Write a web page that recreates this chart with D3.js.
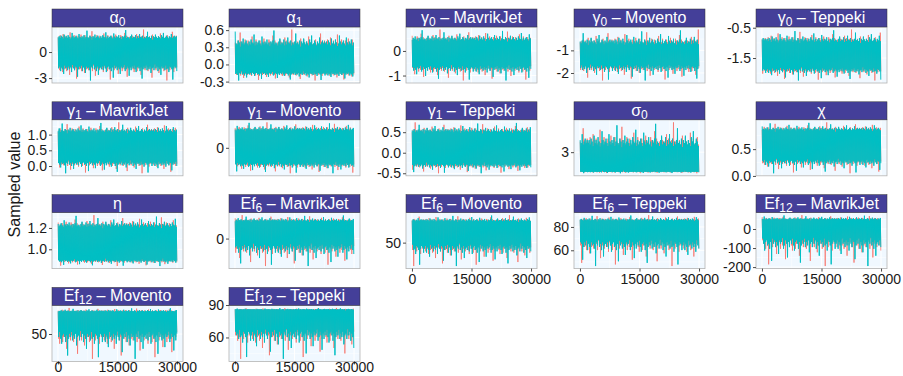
<!DOCTYPE html>
<html>
<head>
<meta charset="utf-8">
<script src="https://cdn.jsdelivr.net/npm/d3@7"></script>
<style>
body { margin: 0; background: #fff; }
svg text { font-family: "Liberation Sans", Arial, Helvetica, sans-serif; }
</style>
</head>
<body>
<div id="chart"></div>
<script>
'use strict';

// facet titles: symbol, subscript, suffix
const panelNames = [
    ["α", "0", ""], ["α", "1", ""], ["γ", "0", " – MavrikJet"], ["γ", "0", " – Movento"], ["γ", "0", " – Teppeki"],
    ["γ", "1", " – MavrikJet"], ["γ", "1", " – Movento"], ["γ", "1", " – Teppeki"], ["σ", "0", ""], ["χ", "", ""],
    ["η", "", ""], ["Ef", "6", " – MavrikJet"], ["Ef", "6", " – Movento"], ["Ef", "6", " – Teppeki"], ["Ef", "12", " – MavrikJet"],
    ["Ef", "12", " – Movento"], ["Ef", "12", " – Teppeki"]
];

// y tick labels per facet
const yTickLabels = [
    ["0", "-3"], ["0.6", "0.3", "0.0", "-0.3"], ["0", "-1"], ["-1", "-2"], ["-0.5", "-1.5"],
    ["1.0", "0.5", "0.0"], ["0"], ["0.5", "0.0", "-0.5"], ["3"], ["0.5", "0.0"],
    ["1.2", "1.0"], ["0"], ["50"], ["80", "60"], ["0", "-100", "-200"],
    ["50"], ["90", "60"]
];

const xTickLabels = ["0", "15000", "30000"];

// chain centre, edges of the dense band, extreme draws
const centers = [0, 0.1, -0.1, -1.2, -1.4, 0.6, 0, 0.12, 2.55, 0.55, 1.06, 15, 62, 77, 0, 63, 76];
const bandHi = [1.55, 0.33, 0.42, -0.73, -0.97, 1.08, 0.85, 0.5, 3.4, 0.85, 1.21, 34, 71, 85.4, 49, 72, 85.7];
const bandLo = [-1.55, -0.14, -0.62, -1.66, -1.84, 0.14, -0.75, -0.27, 1.73, 0.3, 0.9, -12, 48, 68.3, -50, 52, 67];
const maxVals = [2.59, 0.61, 0.87, -0.08, -0.56, 1.39, 1.25, 0.74, 4.95, 1.0, 1.32, 46, 77, 90.1, 72.7, 75.6, 87.3];
const minVals = [-3.27, -0.28, -1.2, -2.33, -2.24, -0.23, -1.25, -0.5, 1.62, 0.05, 0.843, -54, 27, 46.5, -194.6, 25.6, 40.2];

// standardised per-bin highs and lows of the two chains (250 iterations per bin)
const chain1Hi = [
    2.6, 2.3, 2.9, 2.5, 2.1, 3.1, 2.7, 2.4, 2.8, 2.5, 2.3, 2.6, 3.4, 2.4, 2.7, 2.2, 2.9, 2.5, 2.6, 2.3,
    2.8, 2.4, 2.6, 3.0, 2.5, 2.3, 2.7, 2.9, 2.4, 2.6, 2.2, 2.5, 2.8, 2.6, 3.6, 2.4, 2.7, 2.3, 2.5, 2.9,
    2.6, 2.4, 2.8, 2.5, 2.3, 2.7, 3.2, 2.4, 2.6, 2.5, 2.9, 2.3, 2.6, 2.4, 2.8, 2.5, 2.1, 2.7, 3.0, 2.4,
    2.6, 2.5, 2.3, 2.9, 2.7, 2.4, 2.6, 3.3, 2.5, 2.8, 2.4, 2.2, 2.6, 2.5, 2.9, 2.7, 2.3, 2.6, 2.4, 3.1,
    2.5, 2.8, 2.6, 2.3, 2.7, 2.4, 3.9, 2.5, 2.6, 2.2, 2.8, 2.5, 2.7, 2.4, 2.6, 3.0, 2.3, 2.5, 2.9, 2.6,
    2.4, 2.7, 2.5, 3.2, 2.3, 2.6, 2.8, 2.4, 2.5, 2.7, 2.9, 2.4, 2.6, 2.3, 2.5, 3.5, 2.7, 2.4, 2.6, 2.8
];
const chain1Lo = [
    -2.5, -2.8, -2.3, -2.6, -3.0, -2.4, -2.7, -2.2, -2.9, -2.5, -2.6, -3.3, -2.4, -2.7, -2.5, -2.3, -2.8, -2.6, -3.7, -2.4,
    -2.5, -2.7, -2.3, -2.9, -2.6, -2.4, -3.1, -2.5, -2.7, -2.1, -2.8, -2.6, -2.4, -2.5, -2.9, -2.3, -2.7, -3.4, -2.5, -2.6,
    -2.4, -2.8, -2.5, -2.2, -2.7, -3.0, -2.4, -2.6, -2.5, -2.9, -2.3, -2.7, -3.8, -2.5, -2.4, -2.6, -2.8, -2.3, -2.5, -2.7,
    -3.2, -2.4, -2.6, -2.5, -2.9, -2.3, -2.7, -2.4, -2.6, -3.5, -2.5, -2.8, -2.4, -2.6, -2.3, -2.7, -3.0, -2.5, -2.4, -2.9,
    -2.6, -2.3, -2.5, -3.3, -2.7, -2.4, -2.6, -2.8, -2.5, -2.1, -2.9, -2.6, -2.4, -2.7, -3.6, -2.5, -2.3, -2.6, -2.8, -2.4,
    -2.5, -3.1, -2.7, -2.4, -2.6, -2.3, -2.9, -2.5, -2.7, -3.9, -2.4, -2.6, -2.8, -2.5, -2.3, -2.7, -3.0, -2.4, -2.6, -2.5
];
const chain2Hi = [
    2.5, 2.7, 2.4, 2.8, 2.6, 2.3, 3.0, 2.5, 2.7, 2.4, 2.9, 2.6, 2.2, 2.5, 3.3, 2.7, 2.4, 2.6, 2.8, 2.5,
    2.3, 3.1, 2.6, 2.4, 2.7, 2.5, 2.9, 2.3, 2.6, 3.7, 2.5, 2.4, 2.8, 2.6, 2.1, 2.7, 2.5, 3.0, 2.4, 2.6,
    2.8, 2.5, 2.3, 2.7, 2.4, 2.9, 2.6, 2.5, 3.4, 2.3, 2.7, 2.4, 2.6, 2.8, 2.5, 2.3, 3.2, 2.6, 2.4, 2.7,
    2.5, 2.9, 2.4, 2.6, 2.2, 2.7, 2.5, 2.8, 3.8, 2.4, 2.6, 2.5, 2.3, 2.7, 3.0, 2.4, 2.6, 2.5, 2.9, 2.3,
    2.7, 2.4, 3.1, 2.6, 2.5, 2.8, 2.3, 2.6, 2.4, 2.7, 3.5, 2.5, 2.6, 2.4, 2.8, 2.1, 2.7, 2.5, 3.0, 2.6,
    2.4, 2.7, 2.5, 2.3, 2.9, 2.6, 3.3, 2.4, 2.5, 2.8, 2.6, 2.3, 2.7, 2.5, 3.1, 2.4, 2.6, 2.8, 2.5, 2.7
];
const chain2Lo = [
    -2.6, -2.4, -2.9, -2.5, -2.7, -3.2, -2.3, -2.6, -2.5, -2.8, -2.4, -2.7, -2.5, -3.0, -2.2, -2.6, -2.8, -2.4, -2.5, -3.5,
    -2.7, -2.4, -2.6, -2.3, -2.9, -2.5, -2.7, -3.1, -2.4, -2.6, -2.5, -2.8, -3.9, -2.4, -2.6, -2.1, -2.7, -2.5, -2.9, -2.4,
    -3.3, -2.6, -2.5, -2.7, -2.4, -2.8, -2.3, -2.6, -3.0, -2.5, -2.4, -2.7, -2.6, -2.9, -2.5, -3.6, -2.3, -2.6, -2.4, -2.8,
    -2.5, -2.7, -3.2, -2.4, -2.6, -2.5, -2.2, -2.9, -2.7, -2.4, -2.6, -3.4, -2.5, -2.8, -2.4, -2.6, -2.3, -2.7, -3.0, -2.5,
    -2.4, -2.6, -2.9, -2.5, -3.7, -2.7, -2.4, -2.6, -2.3, -2.8, -2.5, -2.7, -2.4, -3.1, -2.6, -2.5, -2.8, -2.1, -2.6, -2.4,
    -2.9, -2.5, -2.7, -3.3, -2.4, -2.6, -2.5, -2.8, -2.3, -2.7, -2.6, -3.0, -2.4, -2.5, -2.7, -3.8, -2.6, -2.4, -2.5, -2.9
];

const chainColors = ["#F8766D", "#00BFC4"];
const chainWidths = [0.8, 1.0];

// layout (pixels)
const colLefts = [52, 229, 406, 574, 756];
const panelW = 131, stripH = 18, panelH = 56, rowTop0 = 9, rowPitch = 92.8;
const nIter = 30000, binSize = 250, zEdge = 2.3;

const zTop = d3.max(chain1Hi.concat(chain2Hi));
const zBot = d3.min(chain1Lo.concat(chain2Lo));

// map a standardised draw to the facet's scale
const toValue = (z, p) => {
    const c = centers[p];
    if (z >= 0) {
        if (z <= zEdge) return c + z / zEdge * (bandHi[p] - c);
        return bandHi[p] + (z - zEdge) / (zTop - zEdge) * (maxVals[p] - bandHi[p]);
    }
    if (z >= -zEdge) return c + z / zEdge * (c - bandLo[p]);
    return bandLo[p] - (z + zEdge) / (zBot + zEdge) * (bandLo[p] - minVals[p]);
};

const chainPoints = (hi, lo, p) => {
    const offset = (p * 29) % hi.length;
    const pts = [];
    for (let i = 0; i < hi.length; i++) {
        const j = (i + offset) % hi.length;
        pts.push([i * binSize + binSize * 0.25, toValue(hi[j], p)]);
        pts.push([i * binSize + binSize * 0.75, toValue(lo[j], p)]);
    }
    return pts;
};

const svg = d3.select("#chart")
    .append("svg")
    .attr("width", 903)
    .attr("height", 376);

svg.append("text")
    .attr("transform", "translate(16,184.5) rotate(-90)")
    .attr("text-anchor", "middle")
    .attr("dominant-baseline", "middle")
    .style("font-size", "16px")
    .attr("fill", "#1a1a1a")
    .text("Sampled value");

const x = d3.scaleLinear()
    .domain([-0.05 * nIter, 1.05 * nIter])
    .range([0, panelW]);

panelNames.forEach((name, p) => {
    const row = Math.floor(p / 5), col = p % 5;
    const left = colLefts[col];
    const top = rowTop0 + row * rowPitch;

    const chains = [chainPoints(chain1Hi, chain1Lo, p), chainPoints(chain2Hi, chain2Lo, p)];
    const allVals = chains.flat().map(d => d[1]);
    const lo = d3.min(allVals), hi = d3.max(allVals);
    const pad = (hi - lo) * 0.05;

    const y = d3.scaleLinear()
        .domain([lo - pad, hi + pad])
        .range([panelH, 0]);

    const g = svg.append("g")
        .attr("transform", "translate(" + left + "," + (top + stripH) + ")");

    g.append("rect")
        .attr("width", panelW)
        .attr("height", panelH)
        .attr("fill", "#F0F8FF");

    // grid
    const ticks = yTickLabels[p].map(Number);
    let minorY = [];
    if (ticks.length > 1) {
        const step = Math.abs(ticks[0] - ticks[1]);
        const t0 = d3.min(ticks);
        for (let k = -4; k < 12; k++) {
            const v = t0 + (k + 0.5) * step;
            if (v > y.domain()[0] && v < y.domain()[1]) minorY.push(v);
        }
    }
    const minorX = [7500, 22500];

    g.selectAll(".minor-y").data(minorY).enter().append("line")
        .attr("x1", 0).attr("x2", panelW)
        .attr("y1", d => y(d)).attr("y2", d => y(d))
        .attr("stroke", "#fff").attr("stroke-width", 0.5);
    g.selectAll(".minor-x").data(minorX).enter().append("line")
        .attr("y1", 0).attr("y2", panelH)
        .attr("x1", d => x(d)).attr("x2", d => x(d))
        .attr("stroke", "#fff").attr("stroke-width", 0.5);
    g.selectAll(".major-y").data(ticks).enter().append("line")
        .attr("x1", 0).attr("x2", panelW)
        .attr("y1", d => y(d)).attr("y2", d => y(d))
        .attr("stroke", "#fff").attr("stroke-width", 1);
    g.selectAll(".major-x").data(xTickLabels.map(Number)).enter().append("line")
        .attr("y1", 0).attr("y2", panelH)
        .attr("x1", d => x(d)).attr("x2", d => x(d))
        .attr("stroke", "#fff").attr("stroke-width", 1);

    // traces
    const line = d3.line()
        .x(d => x(d[0]))
        .y(d => y(d[1]));

    chains.forEach((pts, c) => {
        g.append("path")
            .datum(pts)
            .attr("d", line)
            .attr("fill", "none")
            .attr("stroke", chainColors[c])
            .attr("stroke-width", chainWidths[c]);
    });

    g.append("rect")
        .attr("width", panelW)
        .attr("height", panelH)
        .attr("fill", "none")
        .attr("stroke", "#B3B3B3")
        .attr("stroke-width", 0.8);

    // y axis
    const yAxis = g.append("g")
        .call(d3.axisLeft(y)
            .tickValues(ticks)
            .tickFormat((d, i) => yTickLabels[p][i])
            .tickSize(3)
            .tickPadding(2));
    yAxis.select(".domain").remove();
    yAxis.selectAll(".tick line").attr("stroke", "#4d4d4d");
    yAxis.selectAll(".tick text")
        .attr("fill", "#1a1a1a")
        .style("font-size", "14px")
        .style("font-family", "'Liberation Sans', Arial, sans-serif");

    // x axis only where no facet sits below
    if (p + 5 >= panelNames.length) {
        const panelBottom = top + stripH + panelH;
        const baseline = Math.min(15.5, 372 - panelBottom);
        const xAxis = g.append("g")
            .attr("transform", "translate(0," + panelH + ")")
            .call(d3.axisBottom(x)
                .tickValues(xTickLabels.map(Number))
                .tickFormat((d, i) => xTickLabels[i])
                .tickSize(3));
        xAxis.select(".domain").remove();
        xAxis.selectAll(".tick line").attr("stroke", "#4d4d4d");
        xAxis.selectAll(".tick text")
            .attr("y", baseline)
            .attr("dy", null)
            .attr("fill", "#1a1a1a")
            .style("font-size", "14px")
            .style("font-family", "'Liberation Sans', Arial, sans-serif");
    }

    // strip
    svg.append("rect")
        .attr("x", left)
        .attr("y", top)
        .attr("width", panelW)
        .attr("height", stripH)
        .attr("fill", "#443F99")
        .attr("stroke", "#333")
        .attr("stroke-width", 0.5);

    const label = svg.append("text")
        .attr("x", left + panelW / 2)
        .attr("y", top + 14)
        .attr("text-anchor", "middle")
        .attr("fill", "#fff")
        .style("font-size", "16px");
    label.append("tspan").text(name[0]);
    if (name[1]) {
        label.append("tspan")
            .attr("dy", 3)
            .style("font-size", "12px")
            .text(name[1]);
    }
    if (name[2]) {
        label.append("tspan")
            .attr("dy", name[1] ? -3 : 0)
            .text(name[2]);
    }
});
</script>
</body>
</html>
